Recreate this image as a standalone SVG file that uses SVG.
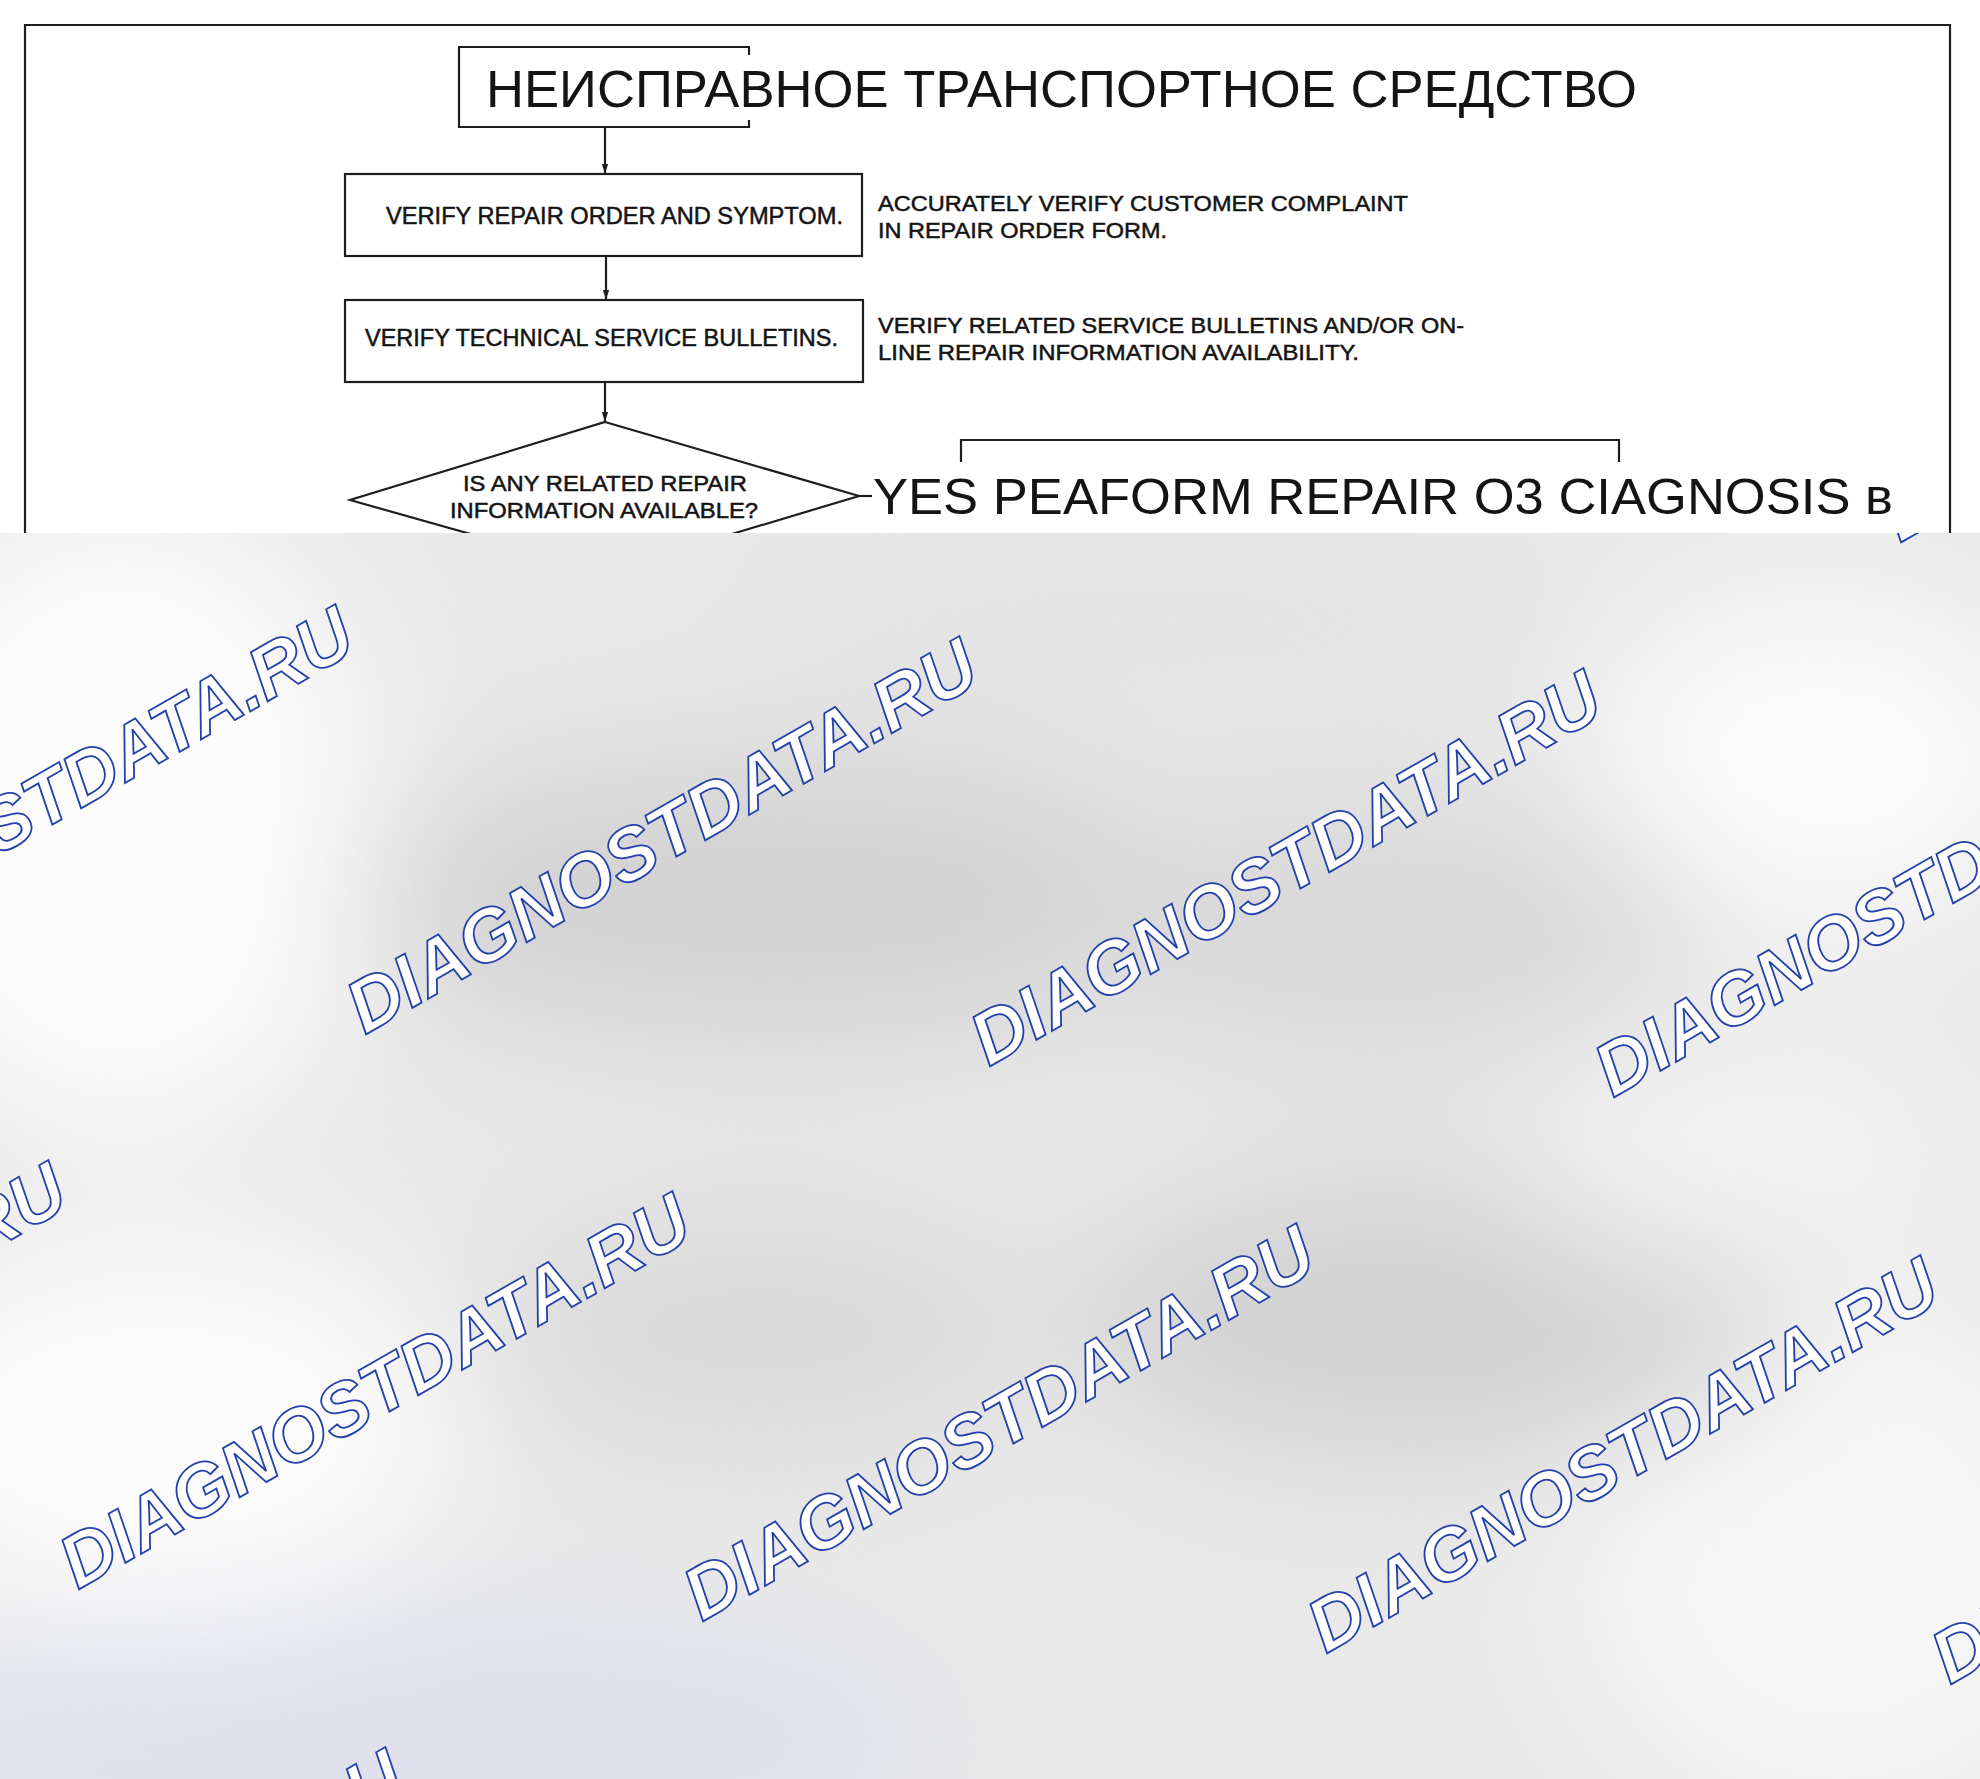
<svg xmlns="http://www.w3.org/2000/svg" width="1980" height="1779" viewBox="0 0 1980 1779">
<style>
.ln{fill:none;stroke:#1e1e1e;stroke-width:2.2}
.tx{font-family:"Liberation Sans",Arial,sans-serif;fill:#141414}
.sm{stroke:#141414;stroke-width:0.5}
.wm{font-family:"Liberation Sans",Arial,sans-serif;font-weight:bold;font-style:italic;font-size:74px;fill:#ffffff;stroke:#2241aa;stroke-width:1.8}
</style>
<defs>
<marker id="arr" markerWidth="10" markerHeight="16" refX="16" refY="5" orient="auto" markerUnits="userSpaceOnUse" viewBox="0 0 16 10">
<path d="M0,0 L16,5 L0,10 Z" fill="#1e1e1e"/>
</marker>
<clipPath id="ov"><rect x="0" y="533" width="1980" height="1246"/></clipPath>
<filter id="bl" x="-50%" y="-50%" width="200%" height="200%"><feGaussianBlur stdDeviation="70"/></filter>
</defs>
<rect width="1980" height="1779" fill="#ffffff"/>
<g id="frame"><path class="ln" d="M25,600 V25 H1950 V600"/></g>
<g id="connectors">
<line class="ln" x1="605" y1="127" x2="605" y2="174" marker-end="url(#arr)"/>
<line class="ln" x1="606" y1="256" x2="606" y2="300" marker-end="url(#arr)"/>
<line class="ln" x1="605" y1="382" x2="605" y2="422" marker-end="url(#arr)"/>
<line class="ln" x1="859" y1="496" x2="872" y2="496"/>
<path class="ln" d="M961,462 V440 H1619 V462"/>
</g>
<g id="title">
<path class="ln" d="M749,55 V47 H459 V127 H749 V120"/>
<text class="tx" x="486" y="107" font-size="51" textLength="1151" lengthAdjust="spacingAndGlyphs">НЕИСПРАВНОЕ ТРАНСПОРТНОЕ СРЕДСТВО</text>
</g>
<g id="box1">
<rect class="ln" x="345" y="174" width="517" height="82"/>
<text class="tx sm" x="386" y="224" font-size="24" textLength="457" lengthAdjust="spacingAndGlyphs">VERIFY REPAIR ORDER AND SYMPTOM.</text>
</g>
<g id="note1">
<text class="tx sm" x="878" y="211" font-size="22.5" textLength="530" lengthAdjust="spacingAndGlyphs">ACCURATELY VERIFY CUSTOMER COMPLAINT</text>
<text class="tx sm" x="878" y="238" font-size="22.5" textLength="289" lengthAdjust="spacingAndGlyphs">IN REPAIR ORDER FORM.</text>
</g>
<g id="box2">
<rect class="ln" x="345" y="300" width="518" height="82"/>
<text class="tx sm" x="365" y="346" font-size="24" textLength="473" lengthAdjust="spacingAndGlyphs">VERIFY TECHNICAL SERVICE BULLETINS.</text>
</g>
<g id="note2">
<text class="tx sm" x="878" y="333" font-size="22.5" textLength="586" lengthAdjust="spacingAndGlyphs">VERIFY RELATED SERVICE BULLETINS AND/OR ON-</text>
<text class="tx sm" x="878" y="360" font-size="22.5" textLength="481" lengthAdjust="spacingAndGlyphs">LINE REPAIR INFORMATION AVAILABILITY.</text>
</g>
<g id="decision">
<path class="ln" d="M605,422 L859,496 L605,572 L350,500 Z"/>
<text class="tx sm" x="463" y="491" font-size="22" textLength="284" lengthAdjust="spacingAndGlyphs">IS ANY RELATED REPAIR</text>
<text class="tx sm" x="450" y="518" font-size="22" textLength="308" lengthAdjust="spacingAndGlyphs">INFORMATION AVAILABLE?</text>
</g>
<g id="yes">
<text class="tx" x="873" y="514" font-size="50" textLength="1020" lengthAdjust="spacingAndGlyphs">YES PEAFORM REPAIR O3 CIAGNOSIS в</text>
</g>
<g id="overlay" clip-path="url(#ov)">
<rect x="0" y="533" width="1980" height="1246" fill="#e9e9e9"/>
<g filter="url(#bl)">
<ellipse cx="120" cy="820" rx="260" ry="320" fill="#fcfcfc"/>
<ellipse cx="1820" cy="760" rx="230" ry="170" fill="#fbfbfb"/>
<ellipse cx="160" cy="1430" rx="300" ry="200" fill="#fbfbfb"/>
<ellipse cx="1840" cy="1560" rx="260" ry="260" fill="#f7f7f7"/>
<ellipse cx="780" cy="900" rx="430" ry="150" fill="#d3d3d3"/>
<ellipse cx="1380" cy="930" rx="320" ry="140" fill="#d9d9d9"/>
<ellipse cx="1430" cy="1320" rx="360" ry="140" fill="#d2d2d2"/>
<ellipse cx="760" cy="1330" rx="280" ry="130" fill="#dadada"/>
<ellipse cx="420" cy="1740" rx="520" ry="110" fill="#dde0ec"/>
<ellipse cx="1150" cy="620" rx="420" ry="90" fill="#e3e3e3"/>
<ellipse cx="1750" cy="1150" rx="230" ry="120" fill="#f3f3f3"/>
</g>
<g id="watermarks">
<text class="wm" transform="translate(1900,543) rotate(-29.8)">DIAGNOSTDATA.RU</text>
<text class="wm" transform="translate(-259,1003) rotate(-29.8)">DIAGNOSTDATA.RU</text>
<text class="wm" transform="translate(365,1035) rotate(-29.8)">DIAGNOSTDATA.RU</text>
<text class="wm" transform="translate(989,1067) rotate(-29.8)">DIAGNOSTDATA.RU</text>
<text class="wm" transform="translate(1613,1098) rotate(-29.8)">DIAGNOSTDATA.RU</text>
<text class="wm" transform="translate(-546,1559) rotate(-29.8)">DIAGNOSTDATA.RU</text>
<text class="wm" transform="translate(78,1590) rotate(-29.8)">DIAGNOSTDATA.RU</text>
<text class="wm" transform="translate(702,1622) rotate(-29.8)">DIAGNOSTDATA.RU</text>
<text class="wm" transform="translate(1326,1654) rotate(-29.8)">DIAGNOSTDATA.RU</text>
<text class="wm" transform="translate(1950,1685) rotate(-29.8)">DIAGNOSTDATA.RU</text>
<text class="wm" transform="translate(-209,2146) rotate(-29.8)">DIAGNOSTDATA.RU</text>
</g>
</g>
</svg>
